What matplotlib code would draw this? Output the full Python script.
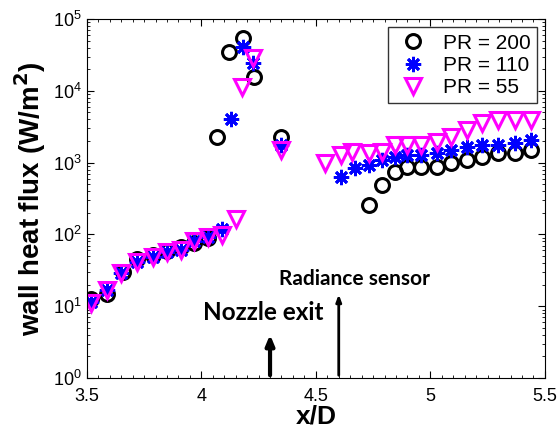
import matplotlib
matplotlib.use("Agg")
import matplotlib.pyplot as plt
from matplotlib.ticker import FixedLocator, MultipleLocator, LogLocator, NullFormatter

plt.rcParams["font.family"] = ["Liberation Sans", "DejaVu Sans"]
plt.rcParams["mathtext.default"] = "regular"

# PR = 200 (open circles)
x_200 = [3.52, 3.59, 3.66, 3.72, 3.79, 3.85, 3.91, 3.97, 4.03,
         4.07, 4.12, 4.18, 4.23, 4.35,
         4.73, 4.79, 4.845, 4.90, 4.96, 5.03, 5.09, 5.16, 5.225, 5.295, 5.37, 5.44]
y_200 = [12.5, 15, 30, 45, 52, 58, 66, 76, 90,
         2300, 35000, 54000, 15500, 2300,
         257, 487, 740, 870, 870, 880, 987, 1086, 1197, 1370, 1370, 1500]

# PR = 110 (stars)
x_110 = [3.52, 3.59, 3.65, 3.72, 3.79, 3.85, 3.91, 3.97, 4.03, 4.09,
         4.13, 4.18, 4.225, 4.35,
         4.61, 4.67, 4.73, 4.79, 4.845, 4.90, 4.96, 5.03, 5.09, 5.16, 5.225, 5.295, 5.37, 5.44]
y_110 = [11.5, 17, 29, 41, 48, 57, 61, 80, 92, 120,
         4050, 40700, 24400, 1760,
         630, 840, 926, 1086, 1197, 1277, 1277, 1370, 1497, 1650, 1760, 1760, 1875, 2065]

# PR = 55 (triangles)
x_55 = [3.52, 3.59, 3.65, 3.72, 3.79, 3.85, 3.91, 3.97, 4.03, 4.09, 4.15,
        4.177, 4.225, 4.35,
        4.54, 4.61, 4.66, 4.73, 4.79, 4.845, 4.90, 4.96, 5.03, 5.09, 5.16, 5.225, 5.295, 5.37, 5.44]
y_55 = [11, 17, 29, 41, 48, 57, 61, 80, 92, 98, 165,
        11300, 28600, 1500,
        988, 1277, 1405, 1370, 1405, 1760, 1760, 1760, 1935, 2275, 2845, 3550, 3920, 3920, 3920]

nozzle_x, nozzle_tip = 4.30, 4.4
sensor_x, sensor_tip = 4.60, 16

fig = plt.figure(figsize=(5.6, 4.34), dpi=100)
ax = fig.add_axes([0.155, 0.129, 0.818, 0.827])

ax.plot(x_200, y_200, "o", ls="none", mfc="none", mec="black", mew=2.2, ms=10, label="PR = 200")
ax.plot(x_110, y_110, ls="none", marker=(8, 2, 0), color="blue", mew=2.0, ms=11, label="PR = 110")
ax.plot(x_55, y_55, "v", ls="none", mfc="none", mec="magenta", mew=2.2, ms=12, label="PR = 55")

ax.set_yscale("log")
ax.set_xlim(3.5, 5.5)
ax.set_ylim(1, 1e5)
ax.xaxis.set_major_locator(FixedLocator([3.5, 4, 4.5, 5, 5.5]))
ax.set_xticklabels(["3.5", "4", "4.5", "5", "5.5"])
ax.xaxis.set_minor_locator(MultipleLocator(0.05))
ax.yaxis.set_major_locator(LogLocator(base=10, numticks=10))
ax.yaxis.set_minor_locator(LogLocator(base=10, subs=range(2, 10), numticks=10))
ax.yaxis.set_minor_formatter(NullFormatter())
ax.tick_params(which="both", direction="in", top=True, right=True, labelsize=13)
ax.tick_params(axis="x", which="major", pad=7)
ax.tick_params(which="major", length=5)
ax.tick_params(which="minor", length=2.5)

ax.set_xlabel("x/D", fontsize=19, fontweight="bold", labelpad=0)
ax.set_ylabel("wall heat flux (W/m$^{\\mathbf{2}}$)", fontsize=20, fontweight="bold", labelpad=4)

ax.annotate("", xy=(nozzle_x, nozzle_tip), xytext=(nozzle_x, 1),
            arrowprops=dict(arrowstyle="-|>,head_length=0.6,head_width=0.25", lw=3, color="black"))
ax.annotate("", xy=(sensor_x, sensor_tip), xytext=(sensor_x, 1),
            arrowprops=dict(arrowstyle="-|>,head_length=0.4,head_width=0.15", lw=2, color="black"))
ax.text(4.27, 8.3, "Nozzle exit", fontsize=17.5, fontweight="bold", family=["Lato", "DejaVu Sans"],
        ha="center", va="center")
ax.text(4.67, 24, "Radiance sensor", fontsize=15, fontweight="bold", family=["Lato", "DejaVu Sans"],
        ha="center", va="center")

leg = ax.legend(loc="upper right", fontsize=15, frameon=True, fancybox=False,
                edgecolor="black", borderaxespad=0.4, handletextpad=0.5,
                labelspacing=0.15, borderpad=0.3, handlelength=1.8)
leg.get_frame().set_linewidth(1.0)

fig.savefig("out.png", dpi=100)
